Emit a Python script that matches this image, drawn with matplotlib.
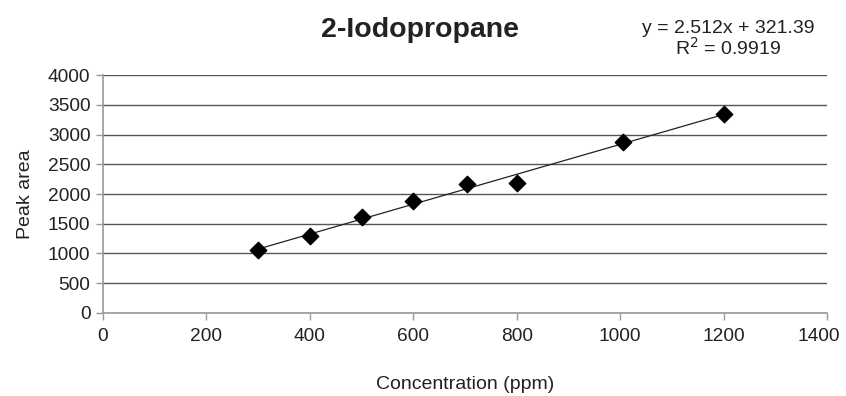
import numpy as np
import matplotlib
matplotlib.use('Agg')
import matplotlib.pyplot as plt
import matplotlib.transforms as mtransforms

plt.rcParams['font.family'] = ['Liberation Sans', 'DejaVu Sans']

conc = [300, 400, 500, 600, 703, 800, 1005, 1200]
area = [1066, 1296, 1616, 1874, 2160, 2183, 2873, 3350]
slope = 2.512
intercept = 321.39
r2 = 0.9919

fig = plt.figure(figsize=(8.46, 3.96), dpi=100)
ax = fig.add_axes([0.1217, 0.2096, 0.8558, 0.6010])

ax.set_xlim(0, 1400)
ax.set_ylim(0, 4000)
ax.set_xticks(range(0, 1401, 200))
ax.set_yticks(range(0, 4001, 500))
ax.yaxis.grid(True, color='#555555', linewidth=1.0)
ax.set_axisbelow(True)

for s in ['top', 'right']:
    ax.spines[s].set_visible(False)
for s in ['left', 'bottom']:
    ax.spines[s].set_color('#999999')
    ax.spines[s].set_linewidth(1.2)
ax.tick_params(axis='both', colors='#999999', labelcolor='#222222', labelsize=13.8, length=5, width=1)
ax.tick_params(axis='y', pad=4)
ax.tick_params(axis='x', pad=6)

# last x label sits a bit left so it stays inside the figure
last = ax.get_xticklabels()[-1]
last.set_transform(last.get_transform() + mtransforms.ScaledTranslation(-6 / 72, 0, fig.dpi_scale_trans))

xfit = np.array([min(conc), max(conc)])
ax.plot(xfit, slope * xfit + intercept, color='#222222', linewidth=0.9)
ax.scatter(conc, area, marker='D', s=70, color='black', zorder=3)

ax.set_ylabel('Peak area', fontsize=14, color='#222222', labelpad=10)
ax.set_xlabel('Concentration (ppm)', fontsize=14, color='#222222', labelpad=22)

fig.text(0.497, 0.925, '2-Iodopropane', fontsize=20.5, fontweight='bold', ha='center', va='center', color='#222222')
fig.text(0.861, 0.928, f'y = {slope}x + {intercept}', fontsize=14, ha='center', va='center', color='#222222')
fig.text(0.861, 0.878, f'R$^2$ = {r2}', fontsize=14, ha='center', va='center', color='#222222')

fig.savefig('out.png', dpi=100)
